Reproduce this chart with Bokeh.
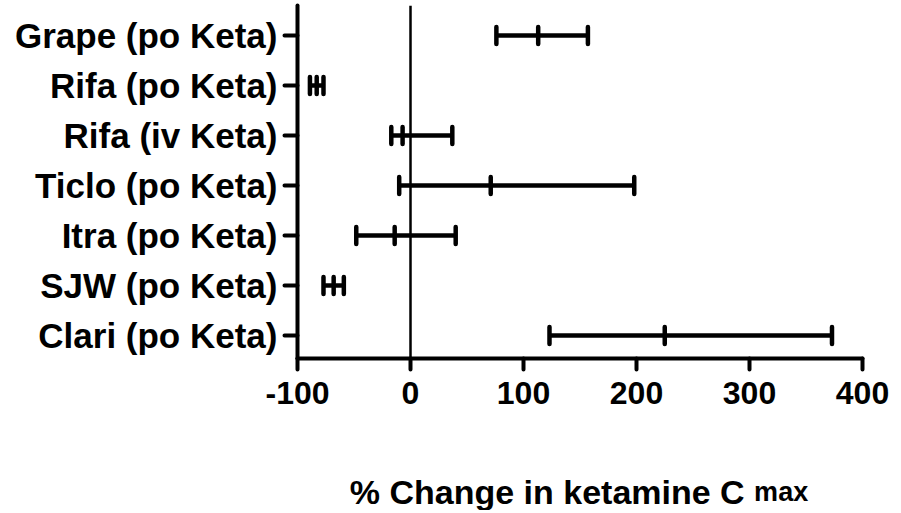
import numpy as np
from bokeh.plotting import figure
from bokeh.layouts import column
from bokeh.models import Range1d, FixedTicker, Span
from bokeh.core.properties import value
from bokeh.embed import file_html
from bokeh.resources import INLINE

# Categories from bottom to top
labels = ["Clari (po Keta)", "SJW (po Keta)", "Itra (po Keta)", "Ticlo (po Keta)",
          "Rifa (iv Keta)", "Rifa (po Keta)", "Grape (po Keta)"]
mid = [225, -68, -14, 71, -7, -83, 113]
lower = [123, -77, -48, -10, -17, -89, 76]
upper = [373, -59, 40, 198, 37, -77, 157]
x_ticks = [-100, 0, 100, 200, 300, 400]
x_tick_labels = ["-100", "0", "100", "200", "300", "400"]
title_main = "% Change in ketamine C"
title_sub = "max"

ypos = np.arange(1, len(labels) + 1, dtype=float)
cap = 0.17

FONT = "Liberation Sans"
W = 895
LEFT = 297
RIGHT = 33

p = figure(width=W, height=420, output_backend="svg", toolbar_location=None,
           x_range=Range1d(-100, 400), y_range=Range1d(0.54, 7.6),
           min_border_left=LEFT, min_border_right=RIGHT, min_border_top=5,
           min_border_bottom=62)

p.grid.visible = False
p.outline_line_color = None

# X axis
p.xaxis.ticker = FixedTicker(ticks=x_ticks)
p.xaxis.major_label_overrides = {t: s for t, s in zip(x_ticks, x_tick_labels)}
p.xaxis.axis_line_width = 4
p.xaxis.axis_line_cap = "round"
p.xaxis.major_tick_line_width = 4
p.xaxis.major_tick_line_cap = "round"
p.xaxis.major_tick_out = 11
p.xaxis.major_tick_in = 0
p.xaxis.minor_tick_line_color = None
p.xaxis.major_label_text_font = FONT
p.xaxis.major_label_text_font_style = "bold"
p.xaxis.major_label_text_font_size = "32px"
p.xaxis.major_label_text_color = "black"
p.xaxis.major_label_standoff = 12

# Y axis
p.yaxis.ticker = FixedTicker(ticks=list(ypos))
overrides = {}
for y, lab in zip(ypos, labels):
    overrides[float(y)] = lab
    overrides[int(y)] = lab
p.yaxis.major_label_overrides = overrides
p.yaxis.axis_line_width = 4
p.yaxis.axis_line_cap = "round"
p.yaxis.major_tick_line_width = 4
p.yaxis.major_tick_line_cap = "round"
p.yaxis.major_tick_out = 13
p.yaxis.major_tick_in = 0
p.yaxis.minor_tick_line_color = None
p.yaxis.major_label_text_font = FONT
p.yaxis.major_label_text_font_style = "bold"
p.yaxis.major_label_text_font_size = "35px"
p.yaxis.major_label_text_color = "black"
p.yaxis.major_label_standoff = 7

# zero line
p.add_layout(Span(location=0, dimension="height", line_color="black", line_width=2.5))

# error bars
p.segment(x0=lower, y0=ypos, x1=upper, y1=ypos, line_color="black", line_width=4.5)
for vals in (lower, mid, upper):
    p.segment(x0=vals, y0=ypos - cap, x1=vals, y1=ypos + cap,
              line_color="black", line_width=4.5, line_cap="round")

# axis title panel (second figure sharing the x range)
t = figure(width=W, height=90, output_backend="svg", toolbar_location=None,
           x_range=p.x_range, y_range=Range1d(0, 90),
           x_axis_type=None, y_axis_type=None,
           min_border_left=LEFT, min_border_right=RIGHT, min_border_top=0,
           min_border_bottom=0)
t.grid.visible = False
t.outline_line_color = None
t.text(x=[121], y=[19], text=[title_main], text_align="center",
       text_baseline="alphabetic", text_font=value(FONT),
       text_font_style="bold", text_font_size="34px", text_color="black")
t.text(x=[328], y=[19], text=[title_sub], text_align="center",
       text_baseline="alphabetic", text_font=value(FONT),
       text_font_style="bold", text_font_size="27px", text_color="black")

layout = column(p, t, spacing=0)
open("out.html", "w").write(file_html(layout, INLINE))
